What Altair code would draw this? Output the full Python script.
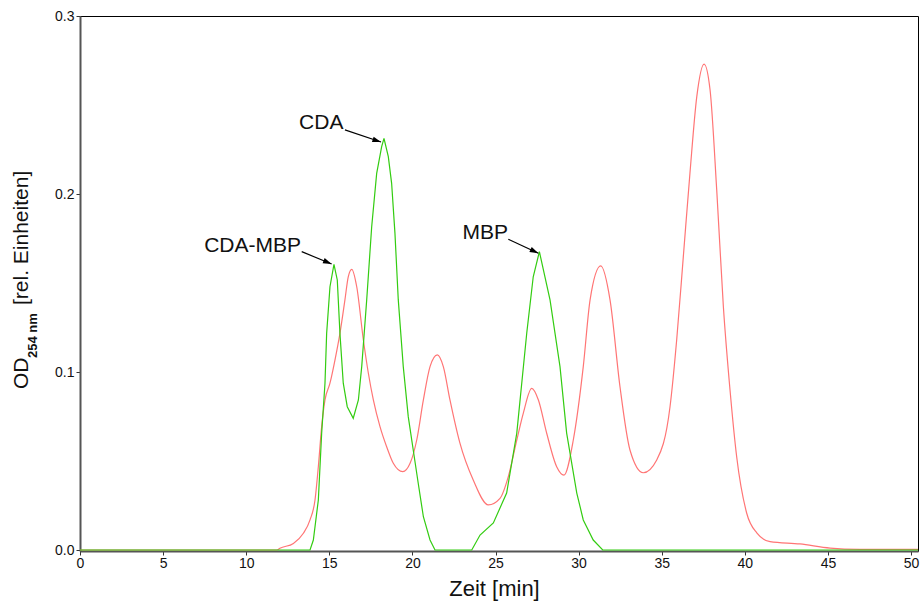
import math
import altair as alt
import pandas as pd

# ---- data ----
green_t = [0, 13.84, 14.04, 14.34, 14.54, 14.74, 14.84, 15.04, 15.28, 15.48, 15.64, 15.84, 16.08,
           16.44, 16.75, 16.95, 17.25, 17.55, 17.85, 18.15, 18.29, 18.55, 18.75, 18.95, 19.15,
           19.45, 19.75, 20.05, 20.35, 20.66, 21.06, 21.36, 23.57, 24.07, 24.87, 25.67, 26.28,
           26.88, 27.27, 27.64, 28.28, 28.88, 29.28, 29.89, 30.28, 30.88, 31.45, 50.42]
green_v = [0, 0, 0.0056, 0.0281, 0.0656, 0.0937, 0.1217, 0.1479, 0.1605, 0.1517, 0.1217, 0.0937,
           0.0805, 0.074, 0.0843, 0.103, 0.1405, 0.1816, 0.2116, 0.2266, 0.2313, 0.221, 0.206,
           0.1779, 0.1405, 0.103, 0.0749, 0.0562, 0.0375, 0.0187, 0.0056, 0, 0, 0.0084, 0.0152,
           0.032, 0.0657, 0.1219, 0.1535, 0.1676, 0.1405, 0.103, 0.0657, 0.032, 0.0169, 0.0056,
           0, 0]

red_t = [0, 11.85, 12.03, 12.84, 13.44, 13.84, 14.14, 14.34, 14.54, 14.74, 15.04, 15.34, 15.64,
         15.94, 16.14, 16.35, 16.65, 17.05, 17.35, 17.65, 18.05, 18.45, 18.85, 19.42, 19.86,
         20.26, 20.66, 21.06, 21.5, 21.86, 22.26, 22.86, 23.66, 24.57, 25.27, 25.77, 26.28,
         26.67, 27.18, 27.58, 28.08, 28.68, 29.12, 29.68, 30.28, 30.69, 31.33, 31.89, 32.49,
         33.09, 33.89, 34.7, 35.5, 35.9, 36.3, 36.7, 37.11, 37.55, 37.91, 38.31, 38.71, 39.11,
         39.51, 40.11, 40.72, 41.52, 43.32, 45.13, 46.93, 50.42]
red_v = [0, 0, 0.001, 0.0037, 0.0094, 0.0169, 0.0281, 0.0468, 0.0693, 0.0843, 0.0937, 0.1067,
         0.1217, 0.1405, 0.1535, 0.1577, 0.1479, 0.118, 0.0993, 0.0843, 0.0693, 0.058, 0.0487,
         0.044, 0.0487, 0.0618, 0.0843, 0.103, 0.1096, 0.103, 0.0843, 0.06, 0.0393, 0.0253,
         0.029, 0.0412, 0.0618, 0.0768, 0.0908, 0.0843, 0.0656, 0.0468, 0.0421, 0.0618, 0.103,
         0.1405, 0.1596, 0.1405, 0.0917, 0.0562, 0.0434, 0.0506, 0.0805, 0.118, 0.1648, 0.2118,
         0.2547, 0.273, 0.2584, 0.2022, 0.1367, 0.0899, 0.0524, 0.0208, 0.0096, 0.0047, 0.0034,
         0.0011, 0.0004, 0.0003]

labels = ["CDA-MBP", "CDA", "MBP"]
label_x = [13.3, 15.85, 25.75]
label_y = [0.1675, 0.2365, 0.1745]
arrow_x0 = [13.34, 15.94, 25.77]
arrow_y0 = [0.1676, 0.2360, 0.1746]
arrow_x1 = [15.14, 18.11, 27.58]
arrow_y1 = [0.1607, 0.2292, 0.1667]

x_ticks = [0, 5, 10, 15, 20, 25, 30, 35, 40, 45, 50]
y_ticks = [0.0, 0.1, 0.2, 0.3]

W, H = 838, 535
X_DOM = [0, 50.42]
Y_DOM = [-0.00056, 0.3]

green_df = pd.DataFrame({"t": green_t, "v": green_v})
red_df = pd.DataFrame({"t": red_t, "v": red_v})

# arrow head angle in screen space
px_per_x = W / (X_DOM[1] - X_DOM[0])
px_per_y = H / (Y_DOM[1] - Y_DOM[0])
angles = []
for a, b, c, d in zip(arrow_x0, arrow_y0, arrow_x1, arrow_y1):
    dx = (c - a) * px_per_x
    dy = -(d - b) * px_per_y
    angles.append(math.degrees(math.atan2(dy, dx)) % 360)

ann_df = pd.DataFrame({"label": labels, "lx": label_x, "ly": label_y,
                       "x0": arrow_x0, "y0": arrow_y0, "x1": arrow_x1, "y1": arrow_y1,
                       "ang": angles})

tick_font = "Liberation Sans Narrow, Arial Narrow, Liberation Sans, sans-serif"
xs = alt.Scale(domain=X_DOM, nice=False, zero=False)
ys = alt.Scale(domain=Y_DOM, nice=False, zero=False)

x_axis = alt.Axis(values=x_ticks, format="d", title="Zeit [min]", titleFont="Liberation Sans",
                  titleFontSize=22, titleFontWeight="normal", titleColor="#111",
                  titlePadding=8, titleX=414, labelFont=tick_font, labelFontSize=14,
                  labelColor="#111", tickSize=4, tickColor="#333", domainColor="#555",
                  domainWidth=2, grid=False, labelPadding=1, labelFlush=False)
y_axis = alt.Axis(values=y_ticks, format=".1f", title=None, labelFont=tick_font,
                  labelFontSize=14, labelColor="#111", tickSize=4, tickColor="#333",
                  domainColor="#555", domainWidth=2, grid=False, labelPadding=2,
                  labelFlush=False)

red_line = alt.Chart(red_df).mark_line(color="#ff7575", strokeWidth=1.2, interpolate="monotone").encode(
    x=alt.X("t:Q", scale=xs, axis=x_axis),
    y=alt.Y("v:Q", scale=ys, axis=y_axis),
)
green_line = alt.Chart(green_df).mark_line(color="#33cc11", strokeWidth=1.2, interpolate="linear").encode(
    x=alt.X("t:Q", scale=xs),
    y=alt.Y("v:Q", scale=ys),
)

base = alt.Chart(ann_df)
shafts = base.mark_rule(color="#000", strokeWidth=1.2).encode(
    x=alt.X("x0:Q", scale=xs), y=alt.Y("y0:Q", scale=ys),
    x2="x1:Q", y2="y1:Q")
heads = base.mark_point(shape="M0,0 L-1,-0.32 L-1,0.32 Z", filled=True, opacity=1,
                        color="#000", size=300, strokeWidth=0).encode(
    x=alt.X("x1:Q", scale=xs), y=alt.Y("y1:Q", scale=ys),
    angle=alt.Angle("ang:Q", scale=None))
texts = base.mark_text(align="right", baseline="alphabetic", font="Liberation Sans",
                       fontSize=21, color="#111").encode(
    x=alt.X("lx:Q", scale=xs), y=alt.Y("ly:Q", scale=ys), text="label:N")

# y-axis title built from pieces (with subscript)
yt_main = alt.Chart(pd.DataFrame({"s": ["OD"]})).mark_text(
    angle=270, align="left", baseline="alphabetic", font="Liberation Sans",
    fontSize=21, color="#111").encode(x=alt.value(-52), y=alt.value(373), text="s:N")
yt_sub = alt.Chart(pd.DataFrame({"s": ["254 nm"]})).mark_text(
    angle=270, align="left", baseline="alphabetic", font="Liberation Sans Narrow, Liberation Sans",
    fontSize=13, fontWeight="bold", color="#111").encode(x=alt.value(-43), y=alt.value(342), text="s:N")
yt_rest = alt.Chart(pd.DataFrame({"s": ["[rel. Einheiten]"]})).mark_text(
    angle=270, align="left", baseline="alphabetic", font="Liberation Sans",
    fontSize=21, color="#111").encode(x=alt.value(-52), y=alt.value(289), text="s:N")

chart = alt.layer(red_line, green_line, shafts, heads, texts, yt_main, yt_sub, yt_rest).properties(
    width=W, height=H,
    autosize=alt.AutoSizeParams(type="none"),
    padding={"left": 80, "top": 16, "right": 3, "bottom": 53},
    background="white",
).configure_view(stroke="#000", strokeWidth=1)

chart.save("out.html", embed_options={"renderer": "svg", "actions": False})
